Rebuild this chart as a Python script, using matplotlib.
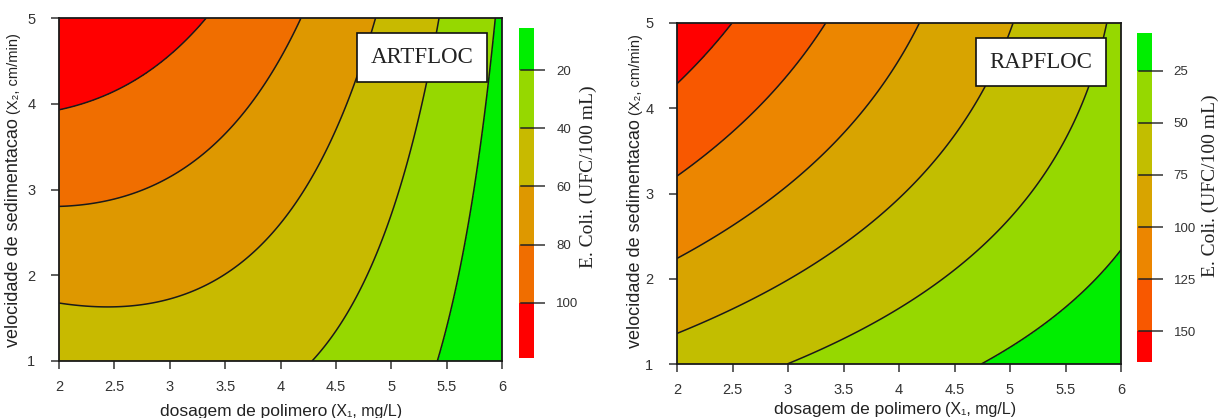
import numpy as np
import matplotlib.pyplot as plt

# response surface coefficients
# E = b0 + b1*dx + b2*dy + b11*dx^2 + b22*dy^2 + b12*dx*dy   (dx = x-2, dy = y-1)
art_coef = [48.0, 5.98, 17.75, -4.15, 0.0, -3.69]
rap_coef = [64.2, -14.3, 30.6, 0.0, -1.37, -3.83]

art_levels = [20, 40, 60, 80, 100]
rap_levels = [25, 50, 75, 100, 125, 150]
art_colors = ['#00EE00', '#96D800', '#C8BA00', '#DE9800', '#F06E00', '#FF0000']
rap_colors = ['#00EE00', '#96D800', '#C2BE00', '#D8A400', '#EC8600', '#F85800', '#FF0000']

x_ticks = [2, 2.5, 3, 3.5, 4, 4.5, 5, 5.5, 6]
x_labels = ['2', '2.5', '3', '3.5', '4', '4.5', '5', '5.5', '6']
y_ticks = [1, 2, 3, 4, 5]
panel_names = ['ARTFLOC', 'RAPFLOC']

SANS = ['Liberation Sans', 'DejaVu Sans']
SERIF = ['Liberation Serif', 'DejaVu Serif']
W, H = 1225, 418

plt.rcParams['font.family'] = SANS


def surface(coef, X, Y):
    dx = X - 2
    dy = Y - 1
    b0, b1, b2, b11, b22, b12 = coef
    return b0 + b1 * dx + b2 * dy + b11 * dx ** 2 + b22 * dy ** 2 + b12 * dx * dy


def split_label(fig, main, extra, cx, cy, s1, s2, vertical):
    # cx, cy in pixels from top-left; baseline on cy (horizontal) or cx (vertical)
    rot = 90 if vertical else 0
    kw = dict(rotation=rot, rotation_mode='anchor', ha='left', va='baseline', color='#222222')
    t1 = fig.text(0, 0, main, fontsize=s1, **kw)
    t2 = fig.text(0, 0, extra, fontsize=s2, **kw)
    r = fig.canvas.get_renderer()
    b1 = t1.get_window_extent(r)
    b2 = t2.get_window_extent(r)
    gap = 4
    if vertical:
        l1, l2 = b1.height, b2.height
        start = cy + (l1 + gap + l2) / 2
        t1.set_position((cx / W, 1 - start / H))
        t2.set_position((cx / W, 1 - (start - l1 - gap) / H))
    else:
        l1, l2 = b1.width, b2.width
        start = cx - (l1 + gap + l2) / 2
        t1.set_position((start / W, 1 - cy / H))
        t2.set_position(((start + l1 + gap) / W, 1 - cy / H))


def panel(fig, rect, cbar_rect, coef, levels, colors, name, cb_pad):
    ax = fig.add_axes(rect)
    cax = fig.add_axes(cbar_rect)
    xs = np.linspace(2, 6, 301)
    ys = np.linspace(1, 5, 301)
    X, Y = np.meshgrid(xs, ys)
    Z = surface(coef, X, Y)
    lev = [Z.min() - 0.01] + levels + [Z.max() + 0.01]
    cf = ax.contourf(X, Y, Z, levels=lev, colors=colors)
    ax.contour(X, Y, Z, levels=levels, colors='#1a1a1a', linewidths=1.1)
    ax.set_xlim(2, 6)
    ax.set_ylim(1, 5)
    ax.set_xticks(x_ticks)
    ax.set_xticklabels(x_labels)
    ax.set_yticks(y_ticks)
    ax.tick_params(axis='both', direction='out', length=6, width=1.1,
                   labelsize=10.5, colors='#333333')
    ax.tick_params(axis='x', pad=8)
    ax.tick_params(axis='y', pad=11)
    for sp in ax.spines.values():
        sp.set_linewidth(1.3)
        sp.set_color('#1a1a1a')
    ax.text(0.82, 0.885, name, transform=ax.transAxes, ha='center', va='center',
            fontsize=16.5, family=SERIF, color='#222222',
            bbox=dict(boxstyle='square,pad=0.6', fc='white', ec='#111111', lw=1.2))

    cb = fig.colorbar(cf, cax=cax, spacing='proportional', ticks=levels)
    cb.outline.set_visible(False)
    cax.invert_yaxis()
    cax.tick_params(direction='out', length=8, width=1.1, labelsize=9.5,
                    colors='#333333', pad=cb_pad)
    for v in levels:
        cax.axhline(v, xmin=0.1, xmax=1.0, color='#222222', lw=1.1)
    return ax


fig = plt.figure(figsize=(W / 100, H / 100), dpi=100)

panel(fig, [59 / W, 1 - 361 / H, 443 / W, 343 / H],
      [519 / W, 1 - 358 / H, 15 / W, 330 / H],
      art_coef, art_levels, art_colors, panel_names[0], 8)
panel(fig, [677 / W, 1 - 364 / H, 444 / W, 341 / H],
      [1137 / W, 1 - 362 / H, 15 / W, 329 / H],
      rap_coef, rap_levels, rap_colors, panel_names[1], 7.5)

# axis titles
split_label(fig, 'dosagem de polimero', '(X\u2081, mg/L)', 281, 416, 12.5, 11.5, False)
split_label(fig, 'dosagem de polimero', '(X\u2081, mg/L)', 895, 414, 12.5, 11.5, False)
split_label(fig, 'velocidade de sedimentacao', '(X\u2082, cm/min)', 18, 190, 13, 10.5, True)
split_label(fig, 'velocidade de sedimentacao', '(X\u2082, cm/min)', 640, 191, 13, 10.5, True)

# colour bar titles
for cx, cy in [(588, 177), (1210, 186)]:
    fig.text(cx / W, 1 - cy / H, 'E. Coli. (UFC/100 mL)', rotation=90, ha='center',
             va='center', fontsize=14, family=SERIF, color='#222222')

fig.savefig('out.png', dpi=100)
